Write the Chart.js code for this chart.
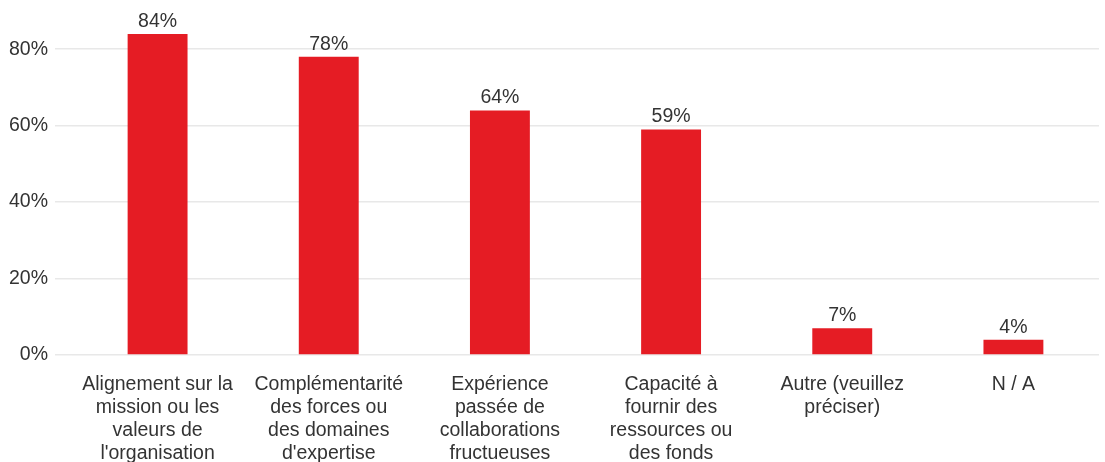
<!DOCTYPE html>
<html>
<head>
<meta charset="utf-8">
<script src="https://cdn.jsdelivr.net/npm/chart.js@4"></script>
<style>
  html, body { margin: 0; padding: 0; background: #fff; }
  #wrap { width: 1105px; height: 462px; }
</style>
</head>
<body>
<div id="wrap"><canvas id="chart" width="1105" height="462"></canvas></div>
<script>
const categories = [
  ['Alignement sur la', 'mission ou les', 'valeurs de', "l'organisation"],
  ['Complémentarité', 'des forces ou', 'des domaines', "d'expertise"],
  ['Expérience', 'passée de', 'collaborations', 'fructueuses'],
  ['Capacité à', 'fournir des', 'ressources ou', 'des fonds'],
  ['Autre (veuillez', 'préciser)'],
  ['N / A']
]
const values = [84, 78, 64, 59, 7, 4]
const yTicks = [0, 20, 40, 60, 80]

const textColor = '#333333'
const barColor = '#e51c24'
const fontFamily = '"Liberation Sans", Arial, sans-serif'
const fontSize = 19.5

// writes the percentage above each bar
const valueLabels = {
  id: 'valueLabels',
  afterDatasetsDraw(chart) {
    const ctx = chart.ctx
    const meta = chart.getDatasetMeta(0)
    ctx.save()
    ctx.font = fontSize + 'px ' + fontFamily
    ctx.fillStyle = textColor
    ctx.textAlign = 'center'
    ctx.textBaseline = 'alphabetic'
    meta.data.forEach((bar, i) => {
      ctx.fillText(values[i] + '%', bar.x, bar.y - 7)
    })
    ctx.restore()
  }
}

const ctx = document.getElementById('chart').getContext('2d')
new Chart(ctx, {
  type: 'bar',
  data: {
    labels: categories,
    datasets: [{
      data: values,
      backgroundColor: barColor,
      borderWidth: 0,
      barPercentage: 0.7,
      categoryPercentage: 0.5
    }]
  },
  options: {
    responsive: false,
    animation: false,
    layout: { padding: { top: 11, right: 6, left: 0, bottom: 0 } },
    plugins: {
      legend: { display: false },
      tooltip: { enabled: false }
    },
    scales: {
      x: {
        grid: { display: false },
        border: { display: false },
        ticks: {
          color: textColor,
          font: { family: fontFamily, size: fontSize, lineHeight: 1.18 },
          maxRotation: 0,
          autoSkip: false,
          padding: 10
        },
        afterFit: s => { s.height = 107 }
      },
      y: {
        min: 0,
        max: 90,
        border: { display: false },
        grid: { color: '#e8e8e8', lineWidth: 1.5, tickLength: 17 },
        afterBuildTicks: s => {
          s.ticks = yTicks.map(v => ({ value: v }))
        },
        ticks: {
          color: textColor,
          font: { family: fontFamily, size: fontSize },
          padding: 7,
          callback: v => v + '%'
        },
        afterFit: s => {
          s.width = 72
          s.paddingTop = 0
          s.paddingBottom = 0
        }
      }
    }
  },
  plugins: [valueLabels]
})
</script>
</body>
</html>
